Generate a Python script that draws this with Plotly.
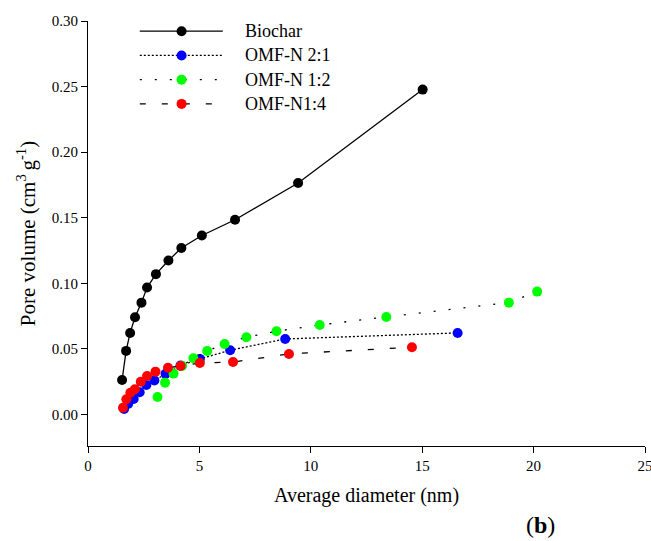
import plotly.graph_objects as go

# ---- data ----
biochar_x = [1.53, 1.71, 1.89, 2.11, 2.40, 2.65, 3.05, 3.61, 4.19, 5.11, 6.60, 9.43, 15.02]
biochar_y = [0.0263, 0.0485, 0.0622, 0.0742, 0.0853, 0.0968, 0.1070, 0.1174, 0.1269, 0.1365, 0.1485, 0.1765, 0.2477]

omf21_x = [1.62, 1.80, 2.05, 2.32, 2.62, 2.98, 3.48, 4.15, 5.02, 6.38, 8.85, 16.59]
omf21_y = [0.0042, 0.0080, 0.0118, 0.0170, 0.0225, 0.0260, 0.0310, 0.0373, 0.0424, 0.0490, 0.0576, 0.0622]

omf12_x = [3.12, 3.46, 3.84, 4.22, 4.73, 5.35, 6.13, 7.11, 8.46, 10.40, 13.39, 18.89, 20.16]
omf12_y = [0.0134, 0.0243, 0.0312, 0.0371, 0.0429, 0.0484, 0.0538, 0.0589, 0.0635, 0.0683, 0.0744, 0.0853, 0.0937]

omf14_x = [1.57, 1.72, 1.90, 2.10, 2.37, 2.65, 3.03, 3.59, 4.16, 5.02, 6.51, 9.02, 14.54]
omf14_y = [0.0052, 0.0116, 0.0166, 0.0192, 0.0250, 0.0294, 0.0327, 0.0357, 0.0370, 0.0393, 0.0400, 0.0462, 0.0513]

names = ["Biochar", "OMF-N 2:1", "OMF-N 1:2", "OMF-N1:4"]
marker_colors = ["#000000", "#0000ff", "#00ff00", "#ff0000"]
dashes = ["solid", "2px,2px", "2px,13px", "6px,16px"]

x_ticks = [0, 5, 10, 15, 20, 25]
y_ticks = [0, 0.05, 0.10, 0.15, 0.20, 0.25, 0.30]

series = [(biochar_x, biochar_y), (omf21_x, omf21_y), (omf12_x, omf12_y), (omf14_x, omf14_y)]

FONT = "Liberation Serif, Times New Roman, serif"

fig = go.Figure()
for (xs, ys), name, col, dash in zip(series, names, marker_colors, dashes):
    fig.add_trace(go.Scatter(
        x=xs, y=ys, name=name, mode="lines+markers",
        line=dict(color="black", width=1.3, dash=dash),
        marker=dict(color=col, size=10, line=dict(width=0)),
        showlegend=False,
    ))

# manual legend (paper coordinates)
leg_y = [0.976, 0.919, 0.862, 0.805]
for name, col, dash, ly in zip(names, marker_colors, dashes, leg_y):
    fig.add_shape(type="line", xref="paper", yref="paper",
                  x0=0.093, x1=0.242, y0=ly, y1=ly,
                  line=dict(color="black", width=1.3, dash=dash))
    fig.add_shape(type="circle", xref="paper", yref="paper",
                  xsizemode="pixel", ysizemode="pixel",
                  xanchor=0.168, yanchor=ly, x0=-5, x1=5, y0=-5, y1=5,
                  fillcolor=col, line=dict(width=0))
    fig.add_annotation(xref="paper", yref="paper", x=0.279, y=ly,
                       text=name, showarrow=False, xanchor="left", yanchor="middle",
                       font=dict(family=FONT, size=18, color="black"))

fig.add_annotation(xref="paper", yref="paper", x=0.813, y=-0.185,
                   text="(<b>b</b>)", showarrow=False, xanchor="center", yanchor="middle",
                   font=dict(family=FONT, size=24, color="black"))

fig.update_layout(
    width=651, height=541,
    margin=dict(l=88, r=6, t=21, b=95),
    paper_bgcolor="white", plot_bgcolor="white",
    font=dict(family=FONT, size=15, color="black"),
    xaxis=dict(range=[0, 25], tickvals=x_ticks, automargin=False, ticklabeloverflow="allow",
               showgrid=False, zeroline=False, showline=True, linecolor="black", linewidth=1,
               ticks="outside", ticklen=6, tickcolor="black",
               title=dict(text="Average diameter (nm)", font=dict(size=20), standoff=14)),
    yaxis=dict(range=[-0.024, 0.30], tickvals=y_ticks, automargin=False,
               tickformat=".2f",
               showgrid=False, zeroline=False, showline=True, linecolor="black", linewidth=1,
               ticks="outside", ticklen=6, tickcolor="black",
               title=dict(text="Pore volume (cm<sup>3 </sup>g<sup>-1</sup>)", font=dict(size=21), standoff=10)),
)

fig.write_html("out.html")
